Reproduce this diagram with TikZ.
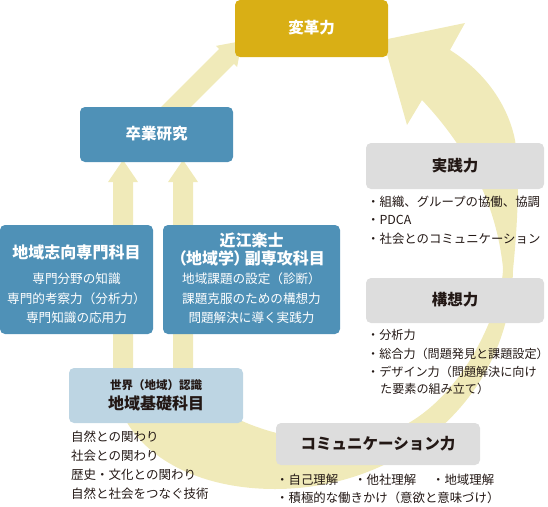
\documentclass[tikz,border=0pt]{standalone}
\usepackage{fontspec}
\setmainfont{Noto Sans CJK JP}
\definecolor{goldbox}{HTML}{D9AF15}
\definecolor{bluebox}{HTML}{4F91B7}
\definecolor{paleblue}{HTML}{BDD5E3}
\definecolor{graybox}{HTML}{DDDDDD}
\definecolor{arrowfill}{HTML}{F0EAB9}
\definecolor{ink}{HTML}{231815}
\tikzset{
    panel/.style = {rounded corners = 5pt, inner sep = 0pt, draw = none},
    headtext/.style = {font = \bfseries\fontsize{15.5}{18}\selectfont, inner sep = 0pt, anchor = base},
    bighead/.style = {headtext, font = \bfseries\fontsize{16}{18}\selectfont, text = white},
    subtext/.style = {font = \fontsize{12.6}{14}\selectfont, inner sep = 0pt, anchor = base, text = white},
    listtext/.style = {font = \fontsize{12.4}{14}\selectfont, inner sep = 0pt, anchor = base west, text = ink},
}
\begin{document}
\begin{tikzpicture}[x = 1pt, y = -1pt]
    \useasboundingbox (0,0) rectangle (548,506);
    \fill [arrowfill] (113,372) .. controls (113,440) and (180,489) .. (275,489)
        .. controls (400,489) and (510,400) .. (513,270)
        .. controls (518,220) and (520,170) .. (515,140)
        .. controls (508,105) and (485,72) .. (450,50)
        -- (465,23) -- (383,40) -- (407,125) -- (422,100)
        .. controls (455,135) and (495,190) .. (503,268)
        .. controls (503,300) and (470,390) .. (405,425)
        .. controls (360,447) and (300,442) .. (260,428)
        .. controls (230,418) and (200,400) .. (193,375) -- cycle;
    \fill [arrowfill] (113,390) -- (113,182) -- (108,182) -- (123,160) -- (138,182) -- (133,182) -- (133,390) -- cycle;
    \fill [arrowfill] (173,390) -- (173,182) -- (168,182) -- (183,160) -- (198,182) -- (193,182) -- (193,390) -- cycle;
    \fill [arrowfill] (152.6,115.6) -- (219.1,49.1) -- (215.9,45.9) -- (242,41) -- (237.1,67.1) -- (233.9,63.9) -- (167.4,130.4) -- cycle;

    \node [panel, fill = goldbox, minimum width = 153pt, minimum height = 57pt] (henkaku) at (311.5,28.5) {};
    \node [headtext, text = white] (henkakuT) at (311.5,33.9) {変革力};

    \node [panel, fill = bluebox, minimum width = 153pt, minimum height = 55pt] (sotsuken) at (156.5,134.5) {};
    \node [headtext, text = white] (sotsukenT) at (156.5,139.9) {卒業研究};

    \node [panel, fill = bluebox, minimum width = 153pt, minimum height = 109pt] (shikou) at (76.5,279.5) {};
    \node [bighead] (shikouT) at (76.5,258) {地域志向専門科目};
    \node [subtext] (shikouA) at (76.5,283.8) {専門分野の知識};
    \node [subtext] (shikouB) at (76.5,303.3) {専門的考察力（分析力）};
    \node [subtext] (shikouC) at (76.5,322.8) {専門知識の応用力};

    \node [panel, fill = bluebox, minimum width = 177pt, minimum height = 109pt] (oumi) at (251.5,279.5) {};
    \node [bighead] (oumiT) at (251.5,246) {近江楽士};
    \node [bighead] (oumiU) at (251.5,264) {\addfontfeatures{RawFeature=+palt}（地域学）\,副専攻科目};
    \node [subtext] (oumiA) at (251.5,283.8) {地域課題の設定（診断）};
    \node [subtext] (oumiB) at (251.5,303.3) {課題克服のための構想力};
    \node [subtext] (oumiC) at (251.5,322.8) {問題解決に導く実践力};

    \node [panel, fill = paleblue, minimum width = 174pt, minimum height = 55pt] (kiso) at (156,395.5) {};
    \node [font = \bfseries\fontsize{11.5}{13}\selectfont, inner sep = 0pt, anchor = base, text = ink] (kisoT) at (156,389.4) {世界（地域）認識};
    \node [font = \bfseries\fontsize{16}{18}\selectfont, inner sep = 0pt, anchor = base, text = ink] (kisoU) at (156,409.1) {地域基礎科目};
    \node [listtext, font = \fontsize{12.5}{14}\selectfont] (kisoA) at (71,441.8) {自然との関わり};
    \node [listtext, font = \fontsize{12.5}{14}\selectfont] (kisoB) at (71,460.8) {社会との関わり};
    \node [listtext, font = \fontsize{12.5}{14}\selectfont] (kisoC) at (71,479.8) {歴史・文化との関わり};
    \node [listtext, font = \fontsize{12.5}{14}\selectfont] (kisoD) at (71,498.8) {自然と社会をつなぐ技術};

    \node [panel, fill = graybox, minimum width = 178pt, minimum height = 46pt] (jissen) at (455,166) {};
    \node [headtext, text = ink] (jissenT) at (455,171.9) {実践力};
    \node [listtext] (jissenA) at (367,206.7) {・組織、グループの協働、協調};
    \node [listtext] (jissenB) at (367,224.7) {・PDCA};
    \node [listtext] (jissenC) at (367,243.7) {・社会とのコミュニケーション};

    \node [panel, fill = graybox, minimum width = 178pt, minimum height = 45pt] (kousou) at (455,300.5) {};
    \node [headtext, text = ink] (kousouT) at (455,305.9) {構想力};
    \node [listtext, font = \fontsize{12.1}{14}\selectfont] (kousouA) at (367,339.7) {・分析力};
    \node [listtext, font = \fontsize{12.1}{14}\selectfont] (kousouB) at (367,358.7) {・総合力（問題発見と課題設定）};
    \node [listtext, font = \fontsize{12.1}{14}\selectfont] (kousouC) at (367,376.7) {・デザイン力（問題解決に向け};
    \node [listtext, font = \fontsize{12.1}{14}\selectfont] (kousouD) at (380,393.7) {た要素の組み立て）};

    \node [panel, fill = graybox, minimum width = 204pt, minimum height = 42pt] (komyu) at (378,444) {};
    \node [headtext, text = ink] (komyuT) at (378,449.9) {コミュニケーション力};
    \node [listtext] (komyuA) at (276,484.7) {・自己理解\hspace{16pt}・他社理解\hspace{16pt}・地域理解};
    \node [listtext] (komyuB) at (276,502.7) {・積極的な働きかけ（意欲と意味づけ）};
\end{tikzpicture}
\end{document}
